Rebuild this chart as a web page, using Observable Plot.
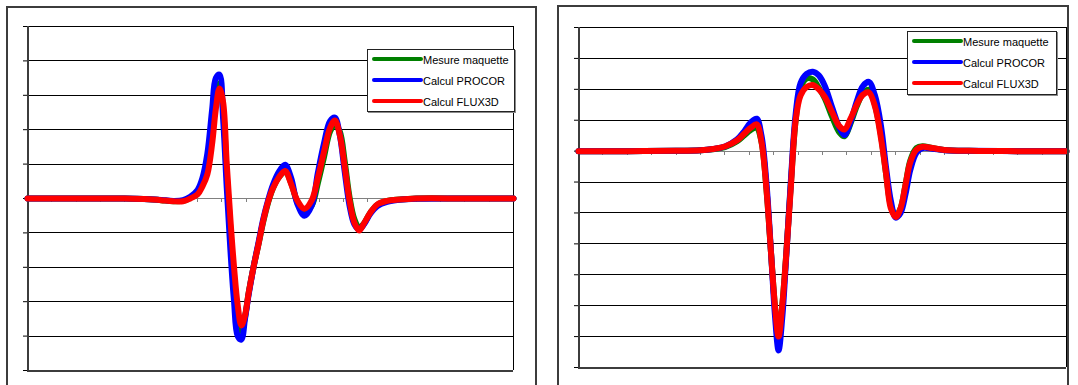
<!DOCTYPE html>
<html>
<head>
<meta charset="utf-8">
<script src="https://cdn.jsdelivr.net/npm/d3@7"></script>
<script src="https://cdn.jsdelivr.net/npm/@observablehq/plot@0.6"></script>
<style>
  body { margin: 0; background: #fff; font-family: "Liberation Sans", Arial, sans-serif; }
  #wrap { position: relative; width: 1078px; height: 385px; overflow: hidden; background: #fff; }
  .svgbox { position: absolute; top: 0; }
  .frame { position: absolute; border: 2px solid #3c3c3c; border-bottom: none; height: 440px; box-sizing: border-box; }
  .legend { position: absolute; background: #fff; border: 1px solid #222; box-shadow: 1px 1px 0 #8a8a8a; box-sizing: border-box; }
  .legend .sw { position: absolute; height: 4px; border-radius: 2px; }
  .legend .lb { position: absolute; font-size: 11px; line-height: 12px; color: #000; white-space: nowrap; }
</style>
</head>
<body>
<div id="wrap"></div>
<script>
// ---------- data ----------
const seriesNames = ["Mesure maquette", "Calcul PROCOR", "Calcul FLUX3D"];
const seriesColors = ["#008000", "#0000ff", "#ff0000"];
const xTicks = [0,1,2,3,4,5,6,7,8,9,10,11,12,13,14,15,16,17,18,19,20];

// left chart
const leftYTicks = [-5,-4,-3,-2,-1,0,1,2,3,4,5];
const leftX = [0,2,4,5,5.5,6,6.4,6.7,7.0,7.2,7.4,7.6,7.75,7.9,8.05,8.2,8.35,8.5,8.65,8.8,8.95,9.1,9.3,9.5,9.7,9.9,10.1,10.35,10.6,10.85,11.1,11.4,11.7,11.95,12.2,12.45,12.65,12.85,13.05,13.25,13.45,13.65,13.85,14.1,14.4,14.8,15.3,16,18,20];
const leftMesure = [0,0,0,-0.02,-0.05,-0.08,-0.07,0.02,0.15,0.42,0.9,1.9,2.9,3.35,2.6,0.7,-0.9,-2.4,-3.5,-3.85,-3.45,-2.75,-2.0,-1.35,-0.68,-0.12,0.3,0.62,0.78,0.45,-0.1,-0.42,-0.2,0.45,1.2,1.95,2.15,1.95,1.1,0.05,-0.6,-0.85,-0.72,-0.42,-0.18,-0.07,-0.03,0,0,0];
const leftProcor = [0,0,0,-0.02,-0.04,-0.07,-0.05,0.05,0.25,0.6,1.3,2.6,3.5,3.6,2.3,0.3,-1.5,-3.0,-4.0,-4.1,-3.5,-2.8,-2.0,-1.3,-0.6,-0.05,0.4,0.78,0.98,0.6,-0.15,-0.5,-0.2,0.75,1.6,2.25,2.35,1.85,0.8,-0.2,-0.75,-0.9,-0.75,-0.45,-0.22,-0.1,-0.04,-0.01,0,0];
const leftFlux = [0,0,0,-0.02,-0.05,-0.08,-0.08,0.0,0.12,0.35,0.7,1.6,2.6,3.2,2.8,1.0,-0.6,-2.0,-3.1,-3.69,-3.4,-2.75,-2.0,-1.35,-0.65,-0.1,0.3,0.62,0.8,0.42,-0.05,-0.3,-0.05,0.6,1.35,2.05,2.27,1.85,0.95,-0.05,-0.7,-0.93,-0.72,-0.42,-0.17,-0.07,-0.03,0,0,0];

// right chart
const rightYTicks = [-7,-6,-5,-4,-3,-2,-1,0,1,2,3,4];
const rightX = [0,2,4,5,5.5,6,6.5,6.8,7.05,7.3,7.5,7.7,7.9,8.05,8.2,8.35,8.5,8.7,8.9,9.1,9.35,9.6,9.85,10.1,10.4,10.7,10.9,11.15,11.4,11.65,11.9,12.15,12.4,12.6,12.8,13.0,13.2,13.4,13.6,13.85,14.1,14.5,15,16,18,20];
const rightMesure = [0,0,0.01,0.03,0.06,0.13,0.32,0.52,0.68,0.76,0.3,-1.2,-3.4,-5.0,-6.05,-5.0,-3.5,-1.1,1.0,2.05,2.35,2.32,2.05,1.7,1.1,0.6,0.48,0.9,1.45,1.85,1.98,1.5,0.5,-0.7,-1.75,-2.1,-1.85,-1.1,-0.3,0.1,0.16,0.1,0.04,0.01,0,0];
const rightProcor = [0,0,0.01,0.03,0.07,0.15,0.38,0.65,0.92,1.05,0.5,-1.0,-3.4,-5.3,-6.45,-5.4,-3.6,-1.0,1.2,2.2,2.5,2.57,2.45,2.1,1.4,0.75,0.52,0.95,1.6,2.1,2.24,1.8,0.8,-0.5,-1.6,-2.15,-2.0,-1.4,-0.6,-0.05,0.1,0.08,0.03,0.01,0,0];
const rightFlux = [0,0,0.01,0.03,0.07,0.15,0.35,0.57,0.75,0.87,0.3,-1.2,-3.4,-5.0,-6.0,-5.0,-3.5,-1.2,1.0,1.8,2.08,2.14,2.0,1.75,1.25,0.8,0.7,1.05,1.5,1.82,1.9,1.45,0.4,-0.7,-1.85,-2.13,-1.85,-1.1,-0.35,0.05,0.14,0.1,0.04,0.01,0,0];

// ---------- build ----------
function rows(xs, seriesValues) {
  const out = [];
  seriesValues.forEach((vals, k) => vals.forEach((v, i) => out.push({x: xs[i], y: v, series: seriesNames[k]})));
  return out;
}

function chart({xs, values, yTicks, width, marginLeft, marginRight, marginTop, marginBottom}) {
  const yMin = yTicks[0], yMax = yTicks[yTicks.length - 1];
  const crisp = {shapeRendering: "crispEdges"};
  return Plot.plot({
    width, height: 385,
    marginLeft, marginRight, marginTop, marginBottom,
    style: {background: "transparent", overflow: "visible"},
    x: {domain: [xTicks[0], xTicks[xTicks.length - 1]], axis: null},
    y: {domain: [yMin, yMax], ticks: yTicks, tickSize: 4, tickFormat: () => "", label: null},
    color: {domain: seriesNames, range: seriesColors},
    marks: [
      Plot.ruleY(yTicks.filter(t => t !== 0 && t !== yMin && t !== yMax), {stroke: "#000", strokeWidth: 1, ...crisp}),
      Plot.ruleY([0], {stroke: "#808080", strokeWidth: 1, ...crisp}),
      Plot.ruleX(xTicks, {y1: 0, y2: 0, insetBottom: -4, stroke: "#808080", ...crisp}),
      Plot.ruleY([yMax], {stroke: "#000", strokeWidth: 1, ...crisp}),
      Plot.ruleX([xTicks[xTicks.length - 1]], {stroke: "#000", strokeWidth: 1, ...crisp}),
      Plot.ruleY([yMin], {stroke: "#3c3c3c", strokeWidth: 2, ...crisp}),
      Plot.ruleX([xTicks[0]], {stroke: "#3c3c3c", strokeWidth: 2, ...crisp}),
      Plot.line(rows(xs, values), {x: "x", y: "y", z: "series", stroke: "series", strokeWidth: 6,
        curve: "catmull-rom", strokeLinejoin: "round", strokeLinecap: "round"})
    ]
  });
}

const wrap = document.getElementById("wrap");

function place(el, left) {
  const d = document.createElement("div");
  d.className = "svgbox";
  d.style.left = left + "px";
  d.appendChild(el);
  wrap.appendChild(d);
}

place(chart({xs: leftX, values: [leftMesure, leftProcor, leftFlux], yTicks: leftYTicks,
  width: 540, marginLeft: 27, marginRight: 27, marginTop: 26, marginBottom: 15}), 0);
place(chart({xs: rightX, values: [rightMesure, rightProcor, rightFlux], yTicks: rightYTicks,
  width: 538, marginLeft: 38, marginRight: 12, marginTop: 27, marginBottom: 18}), 540);

function frame(left, top, width) {
  const f = document.createElement("div");
  f.className = "frame";
  f.style.left = left + "px"; f.style.top = top + "px"; f.style.width = width + "px";
  wrap.appendChild(f);
}
frame(6, 6, 531);
frame(557, 5, 512);

function legend(left, top, width, height) {
  const lg = document.createElement("div");
  lg.className = "legend";
  Object.assign(lg.style, {left: left + "px", top: top + "px", width: width + "px", height: height + "px"});
  seriesNames.forEach((name, i) => {
    const cy = 7 + i * 21;
    const sw = document.createElement("div");
    sw.className = "sw";
    Object.assign(sw.style, {left: "4px", top: cy + "px", width: "51px", background: seriesColors[i]});
    lg.appendChild(sw);
    const lb = document.createElement("div");
    lb.className = "lb";
    lb.textContent = name;
    Object.assign(lb.style, {left: "55px", top: (cy - 3) + "px"});
    lg.appendChild(lb);
  });
  wrap.appendChild(lg);
}
legend(367, 49, 148, 63);
legend(907, 31, 150, 64);
</script>
</body>
</html>
